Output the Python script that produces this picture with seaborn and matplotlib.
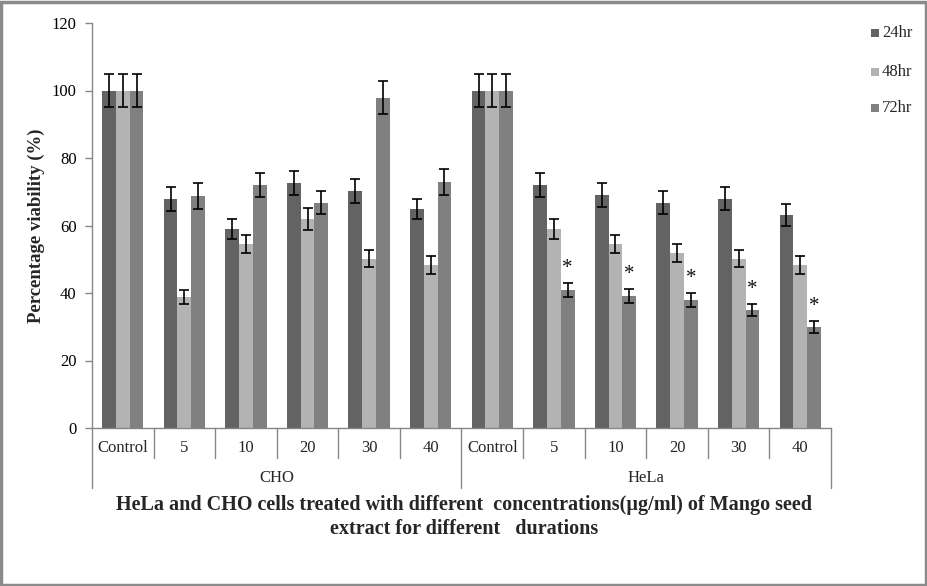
import matplotlib
matplotlib.use("Agg")
import matplotlib.pyplot as plt
import matplotlib.transforms as mtransforms
from matplotlib.patches import Rectangle
import numpy as np
import pandas as pd
import seaborn as sns

# ---- data ----
cell_lines = ["CHO", "HeLa"]
concentrations = ["Control", "5", "10", "20", "30", "40"]
durations = ["24hr", "48hr", "72hr"]

cho_24 = [100, 67.9, 59.0, 72.6, 70.2, 64.9]
cho_48 = [100, 38.8, 54.5, 61.9, 50.1, 48.3]
cho_72 = [100, 68.7, 72.0, 66.7, 97.8, 72.9]
hela_24 = [100, 72.0, 69.0, 66.7, 67.9, 63.1]
hela_48 = [100, 59.0, 54.5, 51.9, 50.1, 48.3]
hela_72 = [100, 40.9, 39.1, 37.9, 35.0, 29.9]

cho_24_err = [5.0, 3.5, 2.9, 3.5, 3.5, 3.1]
cho_48_err = [5.0, 2.2, 2.6, 3.2, 2.5, 2.6]
cho_72_err = [5.0, 3.8, 3.5, 3.4, 4.9, 3.8]
hela_24_err = [5.0, 3.5, 3.5, 3.4, 3.4, 3.2]
hela_48_err = [5.0, 2.9, 2.6, 2.6, 2.5, 2.6]
hela_72_err = [5.0, 2.0, 2.0, 2.0, 1.7, 1.7]

# significance markers (72hr HeLa treated groups)
hela_72_sig = [False, True, True, True, True, True]

colors = ["#636363", "#b3b3b3", "#808080"]

title = ("HeLa and CHO cells treated with different  concentrations(\u00b5g/ml) of Mango seed\n"
         "extract for different   durations")
ylabel = "Percentage viability (%)"
yticks = [0, 20, 40, 60, 80, 100, 120]

# ---- build table ----
vals = {("CHO", "24hr"): (cho_24, cho_24_err), ("CHO", "48hr"): (cho_48, cho_48_err),
        ("CHO", "72hr"): (cho_72, cho_72_err), ("HeLa", "24hr"): (hela_24, hela_24_err),
        ("HeLa", "48hr"): (hela_48, hela_48_err), ("HeLa", "72hr"): (hela_72, hela_72_err)}
rows = []
order = []
for cl in cell_lines:
    for c in concentrations:
        order.append(f"{cl}|{c}")
for cl in cell_lines:
    for d in durations:
        v, e = vals[(cl, d)]
        for i, c in enumerate(concentrations):
            rows.append({"key": f"{cl}|{c}", "duration": d, "value": v[i], "err": e[i]})
df = pd.DataFrame(rows)

sns.set_theme(style="white")
plt.rcParams["font.family"] = ["Liberation Serif", "DejaVu Serif"]

fig = plt.figure(figsize=(9.28, 5.86), dpi=100)
fig.patch.set_facecolor("white")
ax = fig.add_axes([92 / 928, 1 - 428 / 586, 739 / 928, 405 / 586])

sns.barplot(data=df, x="key", y="value", hue="duration", order=order, hue_order=durations,
            palette=colors, width=0.67, gap=0, errorbar=None, linewidth=0, saturation=1,
            ax=ax, legend=False)

# error bars
for cont, d in zip(ax.containers, durations):
    xs = [p.get_x() + p.get_width() / 2 for p in cont.patches]
    sub = df[df["duration"] == d].set_index("key").loc[order]
    ax.errorbar(xs, sub["value"].values, yerr=sub["err"].values, fmt="none",
                ecolor="black", elinewidth=1.2, capsize=3.6, capthick=1.2, zorder=5)
    if d == "72hr":
        for j, c in enumerate(concentrations):
            if hela_72_sig[j]:
                k = order.index(f"HeLa|{c}")
                ax.text(xs[k], sub["value"].values[k] + sub["err"].values[k] + 4.4, "*",
                        ha="center", va="center", fontsize=15, color="#111111")

ax.set_xlim(-0.5, len(order) - 0.5)
ax.set_ylim(0, 120)
ax.set_yticks(yticks)
ax.set_yticklabels([str(t) for t in yticks], fontsize=12)
ax.set_xticks([])
ax.set_xlabel("")
ax.set_ylabel(ylabel, fontsize=13.5, fontweight="bold")
ax.yaxis.set_label_coords(-47 / 739, 0.5)
for s in ["top", "right"]:
    ax.spines[s].set_visible(False)
for s in ["left", "bottom"]:
    ax.spines[s].set_color("#868686")
    ax.spines[s].set_linewidth(1.0)
ax.tick_params(axis="y", left=True, length=5, width=1, color="#868686", pad=6, labelcolor="black")

# two-level category axis
trans = mtransforms.blended_transform_factory(ax.transData, ax.transAxes)
ax_h = 405.0
short = 30 / ax_h
long_ = 60 / ax_h
for b in range(len(order) + 1):
    x = b - 0.5
    length = long_ if b % len(concentrations) == 0 else short
    ax.plot([x, x], [0, -length], transform=trans, color="#868686", lw=1.0, clip_on=False)
for i, key in enumerate(order):
    ax.text(i, -20 / ax_h, key.split("|")[1], transform=trans, ha="center", va="center", fontsize=12)
for g, cl in enumerate(cell_lines):
    xc = g * len(concentrations) + (len(concentrations) - 1) / 2
    ax.text(xc, -50 / ax_h, cl, transform=trans, ha="center", va="center", fontsize=12)

fig.text(464 / 928, 1 - 517 / 586, title, ha="center", va="center", fontsize=14.5,
         fontweight="bold", linespacing=1.3)

# legend
for d, c, yp in zip(durations, colors, [33, 72, 108]):
    fig.patches.append(Rectangle((871 / 928, 1 - (yp + 4) / 586), 8 / 928, 8 / 586,
                                 transform=fig.transFigure, facecolor=c, edgecolor="none"))
    fig.text(882 / 928, 1 - yp / 586, d, ha="left", va="center", fontsize=12)

# outer border
fig.patches.append(Rectangle((0.001, 0.001), 0.997, 0.996, transform=fig.transFigure,
                             fill=False, edgecolor="#8a8a8a", linewidth=2.5))

fig.savefig("out.png", dpi=100)
